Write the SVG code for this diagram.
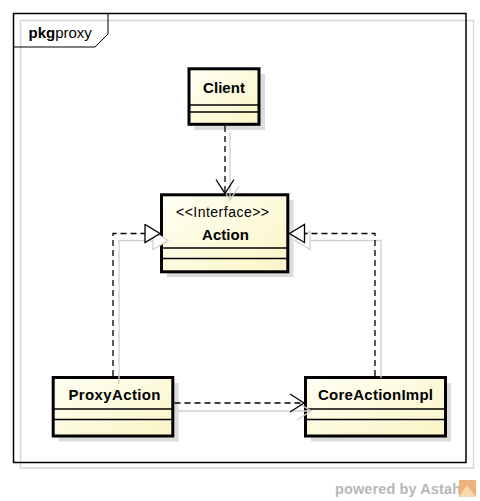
<svg xmlns="http://www.w3.org/2000/svg" width="480" height="501" viewBox="0 0 480 501">
<defs>
<linearGradient id="fill" x1="0" y1="0" x2="1" y2="1">
<stop offset="0" stop-color="#FFFFF4"/>
<stop offset="1" stop-color="#FAF5C6"/>
</linearGradient>
<marker id="openArrow" markerWidth="20" markerHeight="24" refX="15" refY="10" orient="auto" markerUnits="userSpaceOnUse">
<path d="M1,1 L15,10 L1,19" fill="none" stroke="#000" stroke-width="1.3"/>
</marker>
<marker id="openArrowGray" markerWidth="20" markerHeight="24" refX="15" refY="10" orient="auto" markerUnits="userSpaceOnUse">
<path d="M1,1 L15,10 L1,19" fill="none" stroke="#d0d0d0" stroke-width="1.3"/>
</marker>
<marker id="triangle" markerWidth="20" markerHeight="22" refX="16" refY="10" orient="auto" markerUnits="userSpaceOnUse">
<path d="M1,1 L16,10 L1,19 Z" fill="#fff" stroke="#000" stroke-width="1.3"/>
</marker>
<marker id="triangleGray" markerWidth="20" markerHeight="22" refX="16" refY="10" orient="auto" markerUnits="userSpaceOnUse">
<path d="M1,1 L16,10 L1,19 Z" fill="#fff" stroke="#d0d0d0" stroke-width="1.3"/>
</marker>
</defs>
<style>
.frame{fill:none;stroke:#000;stroke-width:1.5}
.frameShadow{fill:none;stroke:#d8d8d8;stroke-width:1.5}
.shadow{fill:#dcdcdc}
.box{fill:url(#fill);stroke:#000;stroke-width:3}
.sep{stroke:#000;stroke-width:1.5}
.name{font-family:"Liberation Sans",Arial,sans-serif;font-weight:bold;font-size:15px;fill:#000;text-anchor:middle}
.stereo{font-family:"Liberation Sans",Arial,sans-serif;font-size:14px;fill:#000;text-anchor:middle}
.dash{fill:none;stroke:#000;stroke-width:1.3;stroke-dasharray:6 4}
.ghost{fill:none;stroke:#d0d0d0;stroke-width:1.3}
.wm{font-family:"Liberation Sans",Arial,sans-serif;font-weight:bold;font-size:14.5px;fill:#b8b8b8}
</style>

<g id="frame">
<rect class="frameShadow" x="20.5" y="20.5" width="453" height="447.5"/>
<rect class="frame" x="13.5" y="13.5" width="452.5" height="449" fill="#fff"/>
<path d="M13.5,47 L95,47 L108,34 L108,13.5" fill="none" stroke="#000" stroke-width="1"/>
<text x="28.5" y="38" font-family="'Liberation Sans',Arial,sans-serif" font-size="15" fill="#000"><tspan font-weight="bold">pkg</tspan><tspan>proxy</tspan></text>
</g>

<g id="Client">
<rect class="shadow" x="194" y="74" width="71" height="56"/>
<rect class="box" x="189" y="68.8" width="70" height="55.5"/>
<line class="sep" x1="189" y1="105" x2="259" y2="105"/>
<line class="sep" x1="189" y1="112" x2="259" y2="112"/>
<text class="name" x="224" y="93" textLength="42" lengthAdjust="spacing">Client</text>
</g>

<g id="Action">
<rect class="shadow" x="167" y="200" width="126.5" height="77"/>
<rect class="box" x="161.5" y="194.8" width="126.3" height="77"/>
<line class="sep" x1="161.5" y1="248" x2="287.8" y2="248"/>
<line class="sep" x1="161.5" y1="258.5" x2="287.8" y2="258.5"/>
<text class="stereo" x="222.5" y="217" textLength="93" lengthAdjust="spacing">&lt;&lt;Interface&gt;&gt;</text>
<text class="name" x="225.5" y="239.5" textLength="47" lengthAdjust="spacing">Action</text>
</g>

<g id="ProxyAction">
<rect class="shadow" x="58.5" y="383" width="120" height="58.5"/>
<rect class="box" x="53.2" y="377.5" width="119.6" height="58.5"/>
<line class="sep" x1="53.2" y1="409" x2="172.8" y2="409"/>
<line class="sep" x1="53.2" y1="419.5" x2="172.8" y2="419.5"/>
<text class="name" x="114.5" y="400" textLength="92" lengthAdjust="spacing">ProxyAction</text>
</g>

<g id="CoreActionImpl">
<rect class="shadow" x="311" y="383" width="140" height="58.5"/>
<rect class="box" x="305.5" y="377.5" width="140" height="58.5"/>
<line class="sep" x1="305.5" y1="409" x2="445.5" y2="409"/>
<line class="sep" x1="305.5" y1="419.5" x2="445.5" y2="419.5"/>
<text class="name" x="375.5" y="400" textLength="115" lengthAdjust="spacing">CoreActionImpl</text>
</g>

<g id="connectors">
<path class="ghost" d="M230,131 L230,200" marker-end="url(#openArrowGray)"/>
<path class="ghost" d="M119,384 L119,240.5 L168,240.5" marker-end="url(#triangleGray)"/>
<path class="ghost" d="M381,378 L381,240.5 L295,240.5" marker-end="url(#triangleGray)"/>
<path class="ghost" d="M178,411 L311,411" marker-end="url(#openArrowGray)"/>
<path class="dash" d="M225,126 L225,193.5" marker-end="url(#openArrow)"/>
<path class="dash" d="M113,376 L113,233.5 L160,233.5" marker-end="url(#triangle)"/>
<path class="dash" d="M375,376 L375,233.5 L289.5,233.5" marker-end="url(#triangle)"/>
<path class="dash" d="M174.5,403 L304,403" marker-end="url(#openArrow)"/>
</g>

<g id="watermark">
<text class="wm" x="335" y="494" textLength="126" lengthAdjust="spacing">powered by Astah</text>
<rect x="459" y="480" width="17" height="17" fill="#eeb27a"/>
<path d="M459,497 L467,485 L476,497 Z" fill="#f8d8b0"/>
</g>
</svg>
